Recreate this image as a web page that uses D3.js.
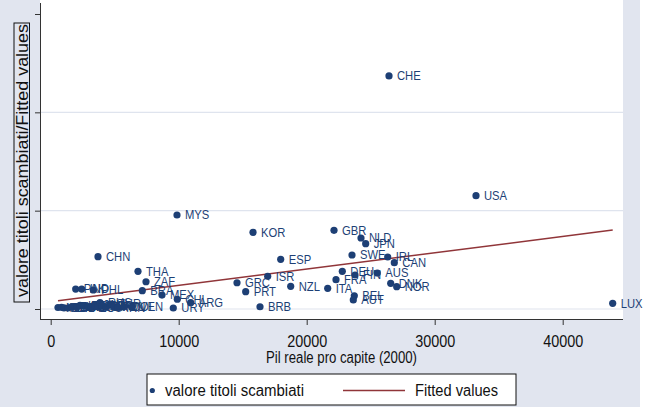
<!DOCTYPE html>
<html>
<head>
<meta charset="utf-8">
<script src="https://cdn.jsdelivr.net/npm/d3@7"></script>
<style>
  html, body { margin: 0; padding: 0; background: #ffffff; }
  svg { display: block; }
  text { font-family: "Liberation Sans", Arial, Helvetica, sans-serif; }
</style>
</head>
<body>
<svg id="chart" width="652" height="407"></svg>
<script>
// Country codes, real GDP per capita (2000) and value of shares traded
const codes = [
  "CHE","USA","LUX","MYS","KOR","GBR","NLD","JPN","SWE","IRL","CAN","ESP","ISR","GRC","PRT","NZL","BRB",
  "ITA","DEU","FRA","FIN","AUS","DNK","NOR","BEL","AUT",
  "CHN","THA","ZAF","BRA","MEX","CHL","URY","ARG","PAK","IND","PHL",
  "NGA","KEN","BGD","GHA","ZWE","LKA","IDN","EGY","MAR","ECU","JAM","JOR","RUS","PER","TTO","TUR","POL","IRN","COL","VEN"
];
const gdp = [
  26430, 33227, 43906, 9867, 15805, 22133, 24242, 24609, 23539, 26328, 26844, 17969, 16953, 14555, 15234, 18750, 16352,
  21641, 22781, 22289, 23773, 25516, 26563, 27031, 23719, 23641,
  3695, 6820, 7445, 7156, 8695, 9891, 9578, 10938, 1953, 2422, 3328,
  570, 844, 1039, 1352, 1664, 2055, 2289, 2602, 2914, 3148, 3461, 3695, 3852, 4008, 4320, 4633, 4945, 5258, 5727, 6352
];
const traded = [
  237.0, 115.2, 5.8, 95.6, 78.0, 80.0, 72.2, 66.4, 54.9, 52.9, 47.1, 50.5, 33.3, 26.7, 17.6, 23.1, 2.3,
  21.0, 38.3, 29.8, 34.6, 36.6, 26.1, 22.7, 13.5, 9.2,
  53.2, 38.3, 27.7, 18.6, 14.2, 9.9, 1.0, 6.4, 20.3, 20.3, 19.3,
  1.5, 1.7, 1.2, 1.0, 2.5, 2.0, 3.6, 3.1, 2.5, 1.5, 4.1, 2.5, 6.6, 3.1, 2.0, 5.1, 2.5, 1.5, 2.5, 2.0
];

// Linear fit, evaluated at the smallest and largest GDP
const fitGdp = [570, 43906];
const fitValue = [8.3, 80.3];

const xTicks = [0, 10000, 20000, 30000, 40000];
const yTicks = [0, 100, 200, 300];
const yGrid = [0, 100, 200];

const xTitle = "Pil reale pro capite (2000)";
const yTitle = "valore titoli scambiati/Fitted values";
const legendLabels = ["valore titoli scambiati", "Fitted values"];

const navy = "#1d3f75";
const maroon = "#903539";
const bg = "#e1e5ef";
const grid = "#dfe4ee";

const svg = d3.select("#chart");

// graph region
svg.append("rect").attr("x", 0).attr("y", 0).attr("width", 640).attr("height", 407).attr("fill", bg);

// plot region
const plot = { left: 40, right: 623, top: 0, bottom: 319 };
svg.append("rect")
  .attr("x", plot.left).attr("y", plot.top)
  .attr("width", plot.right - plot.left).attr("height", plot.bottom - plot.top)
  .attr("fill", "#ffffff");

const x = d3.scaleLinear().domain([0, 40000]).range([50.7, 562.7]);
const y = d3.scaleLinear().domain([0, 300]).range([309, 14]);

// grid lines
svg.append("g").selectAll("line").data(yGrid).join("line")
  .attr("x1", plot.left + 1).attr("x2", plot.right)
  .attr("y1", d => y(d)).attr("y2", d => y(d))
  .attr("stroke", grid).attr("stroke-width", 1.2);

// axes
const xAxis = svg.append("g")
  .attr("transform", `translate(0,${plot.bottom})`)
  .call(d3.axisBottom(x).tickValues(xTicks).tickFormat(d3.format("d")).tickSize(6).tickSizeOuter(0));
xAxis.select(".domain").attr("d", `M${plot.left},0.5H${plot.right}`).attr("stroke", "#333");
xAxis.selectAll(".tick line").attr("stroke", "#333");
xAxis.selectAll(".tick text")
  .attr("y", 0).attr("dy", 0)
  .attr("transform", "translate(0,27.5) scale(0.9,1)")
  .attr("font-size", 16).attr("fill", "#111")
  .attr("font-family", "Liberation Sans, Arial, sans-serif");

const yAxis = svg.append("g")
  .attr("transform", `translate(${plot.left},0)`)
  .call(d3.axisLeft(y).tickValues(yTicks).tickFormat("").tickSize(5).tickSizeOuter(0));
yAxis.select(".domain").attr("d", `M0.5,3V${plot.bottom + 1}`).attr("stroke", "#333");
yAxis.selectAll(".tick line").attr("stroke", "#333");

// fitted line
svg.append("path")
  .datum(fitGdp.map((g, i) => [g, fitValue[i]]))
  .attr("d", d3.line().x(d => x(d[0])).y(d => y(d[1])))
  .attr("fill", "none").attr("stroke", maroon).attr("stroke-width", 1.5);

// points with labels
const pts = codes.map((c, i) => ({ code: c, g: gdp[i], v: traded[i] }));
const pg = svg.append("g").selectAll("g").data(pts).join("g")
  .attr("transform", d => `translate(${x(d.g)},${y(d.v)})`);
pg.append("circle").attr("r", 3.6).attr("fill", navy);
pg.append("text")
  .text(d => d.code)
  .attr("transform", "translate(8,4.4) scale(0.9,1)")
  .attr("font-size", 12.5).attr("fill", navy);

// axis titles
svg.append("text")
  .text(xTitle)
  .attr("x", 266).attr("y", 363.3)
  .attr("textLength", 151).attr("lengthAdjust", "spacingAndGlyphs")
  .attr("font-size", 16).attr("fill", "#111");

svg.append("rect")
  .attr("x", 14).attr("y", 23).attr("width", 15.5).attr("height", 279)
  .attr("fill", "none").attr("stroke", "#111").attr("stroke-width", 1);
svg.append("text")
  .text(yTitle)
  .attr("transform", "translate(27.8,297) rotate(-90)")
  .attr("textLength", 273).attr("lengthAdjust", "spacingAndGlyphs")
  .attr("font-size", 16).attr("fill", "#111");

// legend
const lg = svg.append("g");
lg.append("rect")
  .attr("x", 147).attr("y", 374).attr("width", 369).attr("height", 31)
  .attr("fill", "#ffffff").attr("stroke", "#111").attr("stroke-width", 1);
lg.append("circle").attr("cx", 152.3).attr("cy", 390.5).attr("r", 2.6).attr("fill", navy);
lg.append("text").text(legendLabels[0])
  .attr("x", 165).attr("y", 396)
  .attr("textLength", 139).attr("lengthAdjust", "spacingAndGlyphs")
  .attr("font-size", 16).attr("fill", "#111");
lg.append("line")
  .attr("x1", 343).attr("x2", 405).attr("y1", 390.5).attr("y2", 390.5)
  .attr("stroke", maroon).attr("stroke-width", 1.5);
lg.append("text").text(legendLabels[1])
  .attr("x", 415).attr("y", 396)
  .attr("textLength", 83).attr("lengthAdjust", "spacingAndGlyphs")
  .attr("font-size", 16).attr("fill", "#111");
</script>
</body>
</html>
